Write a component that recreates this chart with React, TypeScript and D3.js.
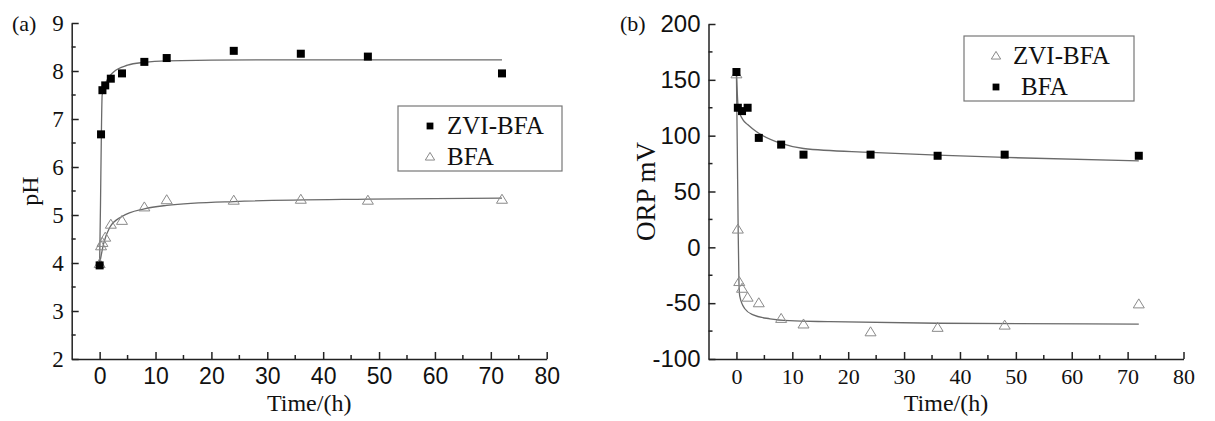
import * as d3 from "d3";
import { useEffect, useRef } from "react";

// ---- panel (a): pH ----
const hoursA = [0, 0.25, 0.5, 1, 2, 4, 8, 12, 24, 36, 48, 72];
const phZvi = [3.95, 6.68, 7.6, 7.7, 7.84, 7.95, 8.19, 8.27, 8.42, 8.36, 8.3, 7.95];
const phBfa = [3.98, 4.35, 4.42, 4.53, 4.8, 4.88, 5.16, 5.31, 5.3, 5.32, 5.3, 5.32];
const fitHoursZviA = [0, 0.15, 0.3, 0.45, 1, 2.5, 5, 8, 12, 29, 50, 72];
const fitZviA = [4.0, 5.2, 6.6, 7.5, 7.72, 7.98, 8.12, 8.18, 8.21, 8.23, 8.23, 8.23];
const fitHoursBfaA = [0, 0.7, 1.8, 4, 8, 12, 24, 48, 72];
const fitBfaA = [3.98, 4.4, 4.74, 4.97, 5.13, 5.2, 5.28, 5.33, 5.35];

// ---- panel (b): ORP ----
const hoursBSq = [0, 0.25, 1, 2, 4, 8, 12, 24, 36, 48, 72];
const orpBfa = [157, 125, 122, 125, 98, 92, 83, 83, 82, 83, 82];
const hoursBTri = [0, 0.25, 0.5, 1, 2, 4, 8, 12, 24, 36, 48, 72];
const orpZvi = [155, 16, -31, -37, -45, -50, -64, -69, -76, -72, -70, -51];
const fitHoursBfaB = [0, 0.3, 0.6, 1.2, 2, 3.6, 8, 12, 24, 36, 48, 72];
const fitBfaB = [157, 126, 120, 114, 110, 103.5, 93, 88.5, 85, 82.5, 80.5, 77.5];
const fitHoursZviB = [0, 0.15, 0.3, 0.45, 0.6, 1.5, 3, 6, 9.5, 16.7, 36, 72];
const fitZviB = [155, 90, 20, -32, -44, -55, -60.5, -64, -65.7, -66.6, -68, -68.7];

const xTicks = [0, 10, 20, 30, 40, 50, 60, 70, 80];
const xMinor = [5, 15, 25, 35, 45, 55, 65, 75];
const phTicks = [2, 3, 4, 5, 6, 7, 8, 9];
const phMinor = [2.5, 3.5, 4.5, 5.5, 6.5, 7.5, 8.5];
const orpTicks = [-100, -50, 0, 50, 100, 150, 200];
const orpMinor = [-75, -25, 25, 75, 125, 175];

const SERIF = "'Liberation Serif', 'Times New Roman', serif";
const SANS = "'Liberation Sans', Arial, sans-serif";
const AXIS = "#222";
const CURVE = "#6a6a6a";
const TRI = "#8a8a8a";

type Series = { t: number[]; v: number[]; kind: "square" | "triangle" };
type Fit = { t: number[]; v: number[] };
type LegendItem = { kind: "square" | "triangle"; label: string; dx?: number };

interface PanelCfg {
  tag: string;
  tagX: number;
  xRange: [number, number];
  yRange: [number, number];
  yDomain: [number, number];
  yTicks: number[];
  yMinor: number[];
  yFont: string;
  yFontSize: number;
  xFont: string;
  xFontSize: number;
  yLabel: string;
  yLabelX: number;
  yLabelSize: number;
  series: Series[];
  fits: Fit[];
  legend: { x: number; y: number; w: number; h: number; items: LegendItem[] };
}

const panels: PanelCfg[] = [
  {
    tag: "(a)",
    tagX: 12,
    xRange: [71.7, 546.7],
    yRange: [359, 23],
    yDomain: [2, 9],
    yTicks: phTicks,
    yMinor: phMinor,
    yFont: SERIF,
    yFontSize: 23,
    xFont: SANS,
    xFontSize: 23,
    yLabel: "pH",
    yLabelX: 30,
    yLabelSize: 24,
    series: [
      { t: hoursA, v: phBfa, kind: "triangle" },
      { t: hoursA, v: phZvi, kind: "square" },
    ],
    fits: [
      { t: fitHoursZviA, v: fitZviA },
      { t: fitHoursBfaA, v: fitBfaA },
    ],
    legend: {
      x: 398,
      y: 106,
      w: 164,
      h: 65,
      items: [
        { kind: "square", label: "ZVI-BFA" },
        { kind: "triangle", label: "BFA" },
      ],
    },
  },
  {
    tag: "(b)",
    tagX: 620,
    xRange: [708.5, 1183.5],
    yRange: [359, 24],
    yDomain: [-100, 200],
    yTicks: orpTicks,
    yMinor: orpMinor,
    yFont: SANS,
    yFontSize: 24,
    xFont: SERIF,
    xFontSize: 22,
    yLabel: "ORP mV",
    yLabelX: 646,
    yLabelSize: 27,
    series: [
      { t: hoursBTri, v: orpZvi, kind: "triangle" },
      { t: hoursBSq, v: orpBfa, kind: "square" },
    ],
    fits: [
      { t: fitHoursBfaB, v: fitBfaB },
      { t: fitHoursZviB, v: fitZviB },
    ],
    legend: {
      x: 964,
      y: 36,
      w: 170,
      h: 65,
      items: [
        { kind: "triangle", label: "ZVI-BFA" },
        { kind: "square", label: "BFA", dx: 8 },
      ],
    },
  },
];

const drawMarker = (
  g: d3.Selection<SVGGElement, unknown, null, undefined>,
  kind: "square" | "triangle",
  cx: number,
  cy: number,
  scale = 1,
) => {
  if (kind === "square") {
    const s = 8 * scale;
    g.append("rect")
      .attr("x", cx - s / 2)
      .attr("y", cy - s / 2)
      .attr("width", s)
      .attr("height", s)
      .attr("fill", "#000");
  } else {
    const w = 11 * scale;
    const h = 9 * scale;
    g.append("path")
      .attr(
        "d",
        `M${cx},${cy - h * 0.6}L${cx + w / 2},${cy + h * 0.4}L${cx - w / 2},${cy + h * 0.4}Z`,
      )
      .attr("fill", "none")
      .attr("stroke", TRI)
      .attr("stroke-width", 1);
  }
};

const App = () => {
  const svgRef = useRef<SVGSVGElement>(null);

  useEffect(() => {
    const svgEl = svgRef.current;
    if (!svgEl) return;
    const svg = d3.select(svgEl);
    svg.selectAll("*").remove();

    panels.forEach((p) => {
      const x = d3.scaleLinear().domain([-5, 80]).range(p.xRange);
      const y = d3.scaleLinear().domain(p.yDomain).range(p.yRange);
      const g = svg.append("g");
      const [x0, x1] = p.xRange;
      const yBase = p.yRange[0];

      // axes: inward ticks, labels outside
      const yAxis = g.append("g").attr("transform", `translate(${x0},0)`);
      yAxis.call(
        d3
          .axisLeft(y)
          .tickValues(p.yTicks)
          .tickSizeInner(-7)
          .tickSizeOuter(0)
          .tickPadding(8)
          .tickFormat((d) => String(d)),
      );
      yAxis
        .selectAll<SVGGElement, number>("g.minor")
        .data(p.yMinor)
        .enter()
        .append("line")
        .attr("x1", 0)
        .attr("x2", 4)
        .attr("y1", (d) => y(d))
        .attr("y2", (d) => y(d));
      yAxis
        .selectAll("text")
        .style("font-family", p.yFont)
        .style("font-size", `${p.yFontSize}px`)
        .attr("fill", "#111");

      const xAxis = g.append("g").attr("transform", `translate(0,${yBase})`);
      xAxis.call(
        d3
          .axisBottom(x)
          .tickValues(xTicks)
          .tickSizeInner(-7)
          .tickSizeOuter(0)
          .tickPadding(9)
          .tickFormat((d) => String(d)),
      );
      xAxis
        .selectAll<SVGGElement, number>("g.minor")
        .data(xMinor)
        .enter()
        .append("line")
        .attr("x1", (d) => x(d))
        .attr("x2", (d) => x(d))
        .attr("y1", 0)
        .attr("y2", -4);
      xAxis
        .selectAll("text")
        .style("font-family", p.xFont)
        .style("font-size", `${p.xFontSize}px`)
        .attr("fill", "#111");

      g.selectAll(".domain, line").attr("stroke", AXIS).attr("stroke-width", 1.5);

      // fitted curves
      const line = d3
        .line<[number, number]>()
        .x((d) => x(d[0]))
        .y((d) => y(d[1]))
        .curve(d3.curveMonotoneX);
      p.fits.forEach((f) => {
        g.append("path")
          .attr("d", line(f.t.map((t, i) => [t, f.v[i]] as [number, number])))
          .attr("fill", "none")
          .attr("stroke", CURVE)
          .attr("stroke-width", 1.3);
      });

      // points
      const pts = g.append("g");
      p.series.forEach((s) => {
        s.t.forEach((t, i) => drawMarker(pts, s.kind, x(t), y(s.v[i])));
      });

      // legend
      const L = p.legend;
      const lg = g.append("g");
      lg.append("rect")
        .attr("x", L.x)
        .attr("y", L.y)
        .attr("width", L.w)
        .attr("height", L.h)
        .attr("fill", "#fff")
        .attr("stroke", "#777")
        .attr("stroke-width", 1.2);
      L.items.forEach((it, i) => {
        const cy = L.y + 20 + i * 31;
        drawMarker(lg, it.kind, L.x + 32, cy, 0.85);
        lg.append("text")
          .attr("x", L.x + 49 + (it.dx ?? 0))
          .attr("y", cy + 8)
          .attr("fill", "#111")
          .style("font-family", SERIF)
          .style("font-size", "25px")
          .text(it.label);
      });

      // titles
      g.append("text")
        .attr("x", (x0 + x1) / 2)
        .attr("y", 411)
        .attr("text-anchor", "middle")
        .attr("fill", "#111")
        .style("font-family", SERIF)
        .style("font-size", "24px")
        .text("Time/(h)");
      g.append("text")
        .attr(
          "transform",
          `translate(${p.yLabelX},${(p.yRange[0] + p.yRange[1]) / 2}) rotate(-90)`,
        )
        .attr("text-anchor", "middle")
        .attr("dominant-baseline", "central")
        .attr("fill", "#111")
        .style("font-family", SERIF)
        .style("font-size", `${p.yLabelSize}px`)
        .text(p.yLabel);
      g.append("text")
        .attr("x", p.tagX)
        .attr("y", 31)
        .attr("fill", "#111")
        .style("font-family", SERIF)
        .style("font-size", "22px")
        .text(p.tag);
    });
  }, []);

  return (
    <svg
      ref={svgRef}
      width={1215}
      height={421}
      style={{ position: "absolute", left: 0, top: 0, background: "#fff", display: "block" }}
    />
  );
};

export default App;
